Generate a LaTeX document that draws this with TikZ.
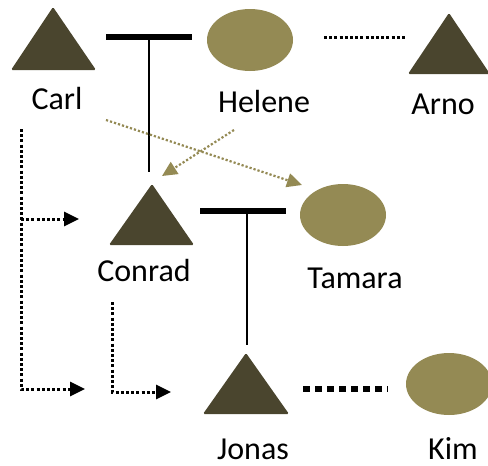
\documentclass[tikz,border=0pt]{standalone}
\usepackage{fontspec}
\setmainfont{Carlito}
\usetikzlibrary{shapes.geometric,arrows.meta}
\definecolor{tridark}{RGB}{74,69,46}
\definecolor{olv}{RGB}{148,138,84}
\begin{document}
\begin{tikzpicture}[x=1pt,y=-1pt,
  lbl/.style={font=\fontsize{32}{38}\selectfont, inner sep=0pt, anchor=base},
  ell/.style={ellipse, fill=olv, minimum width=86pt, minimum height=62pt, inner sep=0pt},
  trishape/.style={fill=tridark, rounded corners=1.5pt},
  bar/.style={line width=6pt},
  stem/.style={line width=2pt},
  bdot/.style={line width=3pt, dash pattern=on 3pt off 2.2pt},
  odot/.style={draw=olv, line width=2.2pt, dash pattern=on 2.2pt off 2pt, -{Triangle[length=15pt,width=14pt,fill=olv]}},
  karrow/.style={bdot, -{Triangle[length=15pt,width=14pt]}},
  bdash/.style={line width=6pt, dash pattern=on 6.5pt off 5.5pt}]
\useasboundingbox (0,0) rectangle (488,466);
% triangles
\coordinate (carlA) at (53,7); \coordinate (carlL) at (11,70); \coordinate (carlR) at (96,70);
\coordinate (arnoA) at (449,13); \coordinate (arnoL) at (408,74); \coordinate (arnoR) at (490,74);
\coordinate (conA) at (152,184); \coordinate (conL) at (109,245); \coordinate (conR) at (194,245);
\coordinate (jonA) at (246,353); \coordinate (jonL) at (203,414); \coordinate (jonR) at (289,414);
\fill[trishape] (carlA) -- (carlR) -- (carlL) -- cycle;
\fill[trishape] (arnoA) -- (arnoR) -- (arnoL) -- cycle;
\fill[trishape] (conA) -- (conR) -- (conL) -- cycle;
\fill[trishape] (jonA) -- (jonR) -- (jonL) -- cycle;
% ellipses
\node[ell] (helene) at (250,40) {};
\node[ell] (tamara) at (343,215) {};
\node[ell] (kim) at (449,384) {};
% labels
\node[lbl] (lcarl) at (57,109) {Carl};
\node[lbl] (lhelene) at (264,112) {Helene};
\node[lbl] (larno) at (443,114) {Arno};
\node[lbl] (lconrad) at (144,281) {Conrad};
\node[lbl] (ltamara) at (355,288) {Tamara};
\node[lbl] (ljonas) at (253,459) {Jonas};
\node[lbl] (lkim) at (453,459) {Kim};
% marriage bars
\coordinate (b1l) at (106,37); \coordinate (b1r) at (192,37);
\coordinate (s1t) at (149,37); \coordinate (s1b) at (149,172);
\draw[bar] (b1l) -- (b1r);
\draw[stem] (s1t) -- (s1b);
\coordinate (b2l) at (200,211); \coordinate (b2r) at (286,211);
\coordinate (s2t) at (247,211); \coordinate (s2b) at (247,345);
\draw[bar] (b2l) -- (b2r);
\draw[stem] (s2t) -- (s2b);
% partner lines
\coordinate (ha1) at (324,37); \coordinate (ha2) at (407,37);
\draw[bdot] (ha1) -- (ha2);
\coordinate (jk1) at (303,389); \coordinate (jk2) at (388,389);
\draw[bdash] (jk1) -- (jk2);
% olive arrows
\coordinate (ct1) at (106,120); \coordinate (ct2) at (302,185);
\draw[odot] (ct1) -- (ct2);
\coordinate (hc1) at (234,130); \coordinate (hc2) at (162,176);
\draw[odot] (hc1) -- (hc2);
% black bracket arrows
\coordinate (lb1) at (21,129); \coordinate (lb2) at (21,389); \coordinate (lb3) at (85,389);
\coordinate (lm1) at (21,219); \coordinate (lm2) at (79,219);
\draw[karrow] (lb1) -- (lb2) -- (lb3);
\draw[karrow] (lm1) -- (lm2);
\coordinate (cj1) at (112,302); \coordinate (cj2) at (112,392); \coordinate (cj3) at (171,392);
\draw[karrow] (cj1) -- (cj2) -- (cj3);
\end{tikzpicture}
\end{document}
